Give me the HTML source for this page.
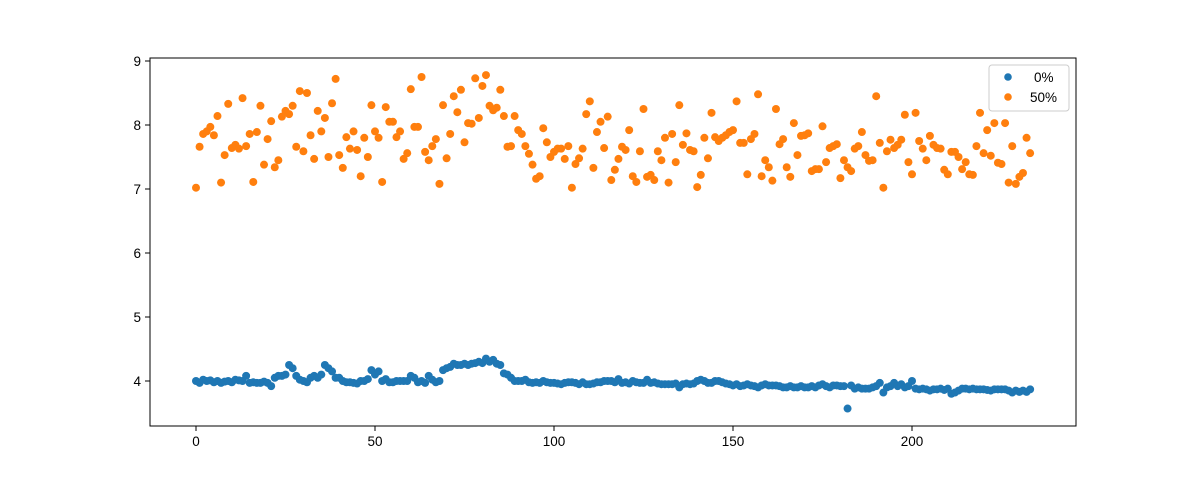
<!DOCTYPE html>
<html><head><meta charset="utf-8"><style>
body{margin:0;background:#fff;}
svg text{font-family:"Liberation Sans","DejaVu Sans",sans-serif;font-size:13.5px;fill:#000;}
</style></head><body>
<svg id="chart" width="1196" height="480" xmlns="http://www.w3.org/2000/svg">
<rect width="1196" height="480" fill="#fff"/>
<g id="marks"></g>
<rect x="150" y="58" width="926" height="368" fill="none" stroke="#000" stroke-width="1"/>
<g id="axes"></g>
<g>
<rect x="989" y="65" width="80" height="46" rx="3" fill="#fff" fill-opacity="0.8" stroke="#ccc"/>
<circle cx="1008" cy="77" r="3.8" fill="#1f77b4"/>
<text x="1034" y="82">0%</text>
<circle cx="1008" cy="97" r="3.8" fill="#ff7f0e"/>
<text x="1030" y="102">50%</text>
</g>
</svg>
<script>
const series0 = [4.0,3.97,4.02,4.0,4.01,3.98,4.0,3.97,3.99,4.0,
3.98,4.02,4.01,4.0,4.08,3.97,3.98,3.97,3.97,3.99,
3.97,3.92,4.05,4.08,4.08,4.1,4.25,4.2,4.08,4.02,
4.0,3.98,4.05,4.08,4.05,4.1,4.25,4.2,4.15,4.05,
4.05,4.0,3.98,3.98,3.97,3.96,4.0,4.0,4.03,4.17,
4.1,4.15,4.0,4.03,3.98,3.98,4.0,4.0,4.0,4.0,
4.08,4.05,3.98,4.0,3.97,4.08,4.02,3.98,4.0,4.17,
4.2,4.22,4.27,4.25,4.25,4.27,4.25,4.27,4.28,4.3,
4.28,4.35,4.3,4.33,4.27,4.25,4.12,4.1,4.05,4.0,
4.0,4.0,4.02,3.98,3.97,3.98,3.97,4.0,3.98,3.97,
3.97,3.96,3.95,3.97,3.98,3.98,3.97,3.95,3.98,3.95,
3.95,3.96,3.98,3.98,4.0,4.0,4.0,3.98,4.03,3.97,
3.98,3.96,4.0,3.98,3.97,3.97,4.02,3.97,3.98,3.96,
3.95,3.95,3.95,3.95,3.96,3.9,3.95,3.96,3.95,3.96,
4.0,4.02,4.0,3.97,3.97,4.0,4.0,3.98,3.96,3.95,
3.93,3.95,3.92,3.93,3.95,3.93,3.92,3.9,3.93,3.95,
3.93,3.93,3.93,3.92,3.9,3.9,3.92,3.9,3.9,3.92,
3.9,3.9,3.92,3.9,3.93,3.95,3.92,3.9,3.93,3.93,
3.92,3.92,3.57,3.93,3.88,3.9,3.88,3.88,3.88,3.9,
3.92,3.97,3.82,3.9,3.92,3.97,3.92,3.95,3.9,3.92,
4.0,3.88,3.87,3.88,3.87,3.85,3.87,3.87,3.88,3.86,
3.88,3.8,3.82,3.85,3.88,3.88,3.87,3.88,3.87,3.87,
3.87,3.86,3.85,3.87,3.87,3.87,3.87,3.85,3.82,3.85,
3.83,3.85,3.83,3.87];
const series50 = [7.02,7.66,7.86,7.9,7.97,7.84,8.14,7.1,7.53,8.33,
7.64,7.69,7.63,8.42,7.67,7.86,7.11,7.89,8.3,7.38,
7.78,8.06,7.34,7.45,8.13,8.22,8.17,8.3,7.66,8.53,
7.59,8.5,7.84,7.47,8.22,7.9,8.11,7.5,8.34,8.72,
7.53,7.33,7.81,7.63,7.9,7.61,7.2,7.8,7.5,8.31,
7.9,7.8,7.11,8.28,8.05,8.05,7.81,7.9,7.47,7.56,
8.56,7.97,7.97,8.75,7.58,7.45,7.67,7.78,7.08,8.31,
7.48,7.86,8.45,8.2,8.55,7.73,8.03,8.02,8.73,8.11,
8.61,8.78,8.3,8.23,8.27,8.55,8.14,7.66,7.67,8.14,
7.92,7.86,7.67,7.55,7.38,7.16,7.2,7.95,7.73,7.5,
7.58,7.63,7.63,7.47,7.67,7.02,7.39,7.48,7.63,8.17,
8.37,7.33,7.89,8.05,7.64,8.13,7.14,7.3,7.47,7.66,
7.61,7.92,7.2,7.11,7.59,8.25,7.19,7.22,7.14,7.59,
7.45,7.8,7.1,7.86,7.42,8.31,7.69,7.87,7.61,7.59,
7.03,7.22,7.8,7.48,8.19,7.81,7.75,7.8,7.84,7.89,
7.92,8.37,7.72,7.72,7.23,7.78,7.86,8.48,7.2,7.45,
7.34,7.13,8.25,7.7,7.78,7.34,7.19,8.03,7.53,7.83,
7.84,7.87,7.28,7.31,7.31,7.98,7.42,7.64,7.67,7.7,
7.17,7.45,7.34,7.28,7.63,7.67,7.89,7.53,7.44,7.45,
8.45,7.72,7.02,7.59,7.77,7.64,7.69,7.77,8.16,7.42,
7.23,8.19,7.75,7.63,7.45,7.83,7.69,7.64,7.63,7.3,
7.23,7.58,7.58,7.5,7.31,7.42,7.23,7.22,7.67,8.19,
7.56,7.92,7.52,8.03,7.41,7.39,8.03,7.1,7.67,7.08,
7.19,7.25,7.8,7.56];
const xTicks = [0,50,100,150,200];
const yTicks = [4,5,6,7,8,9];

const NS='http://www.w3.org/2000/svg';
function xs(v){return 196 + v*3.58;}
function ys(v){return 381 - (v-4)*64;}
const marks=document.getElementById('marks');
function drawSeries(arr,color,name){
  arr.forEach((v,i)=>{
    const c=document.createElementNS(NS,'circle');
    c.setAttribute('cx',xs(i));c.setAttribute('cy',ys(v));c.setAttribute('r',4);
    c.setAttribute('fill',color);
    
    
    marks.appendChild(c);
  });
}
drawSeries(series0,'#1f77b4','point-0pct');
drawSeries(series50,'#ff7f0e','point-50pct');
const axes=document.getElementById('axes');
xTicks.forEach(t=>{
  const l=document.createElementNS(NS,'line');
  l.setAttribute('x1',xs(t));l.setAttribute('x2',xs(t));l.setAttribute('y1',426);l.setAttribute('y2',431);l.setAttribute('stroke','#000');
  
  
  axes.appendChild(l);
  const tx=document.createElementNS(NS,'text');
  tx.setAttribute('x',xs(t));tx.setAttribute('y',446);tx.setAttribute('text-anchor','middle');tx.textContent=t;
  
  
  axes.appendChild(tx);
});
yTicks.forEach(t=>{
  const l=document.createElementNS(NS,'line');
  l.setAttribute('x1',145);l.setAttribute('x2',150);l.setAttribute('y1',ys(t));l.setAttribute('y2',ys(t));l.setAttribute('stroke','#000');
  
  
  axes.appendChild(l);
  const tx=document.createElementNS(NS,'text');
  tx.setAttribute('x',141);tx.setAttribute('y',ys(t)+5);tx.setAttribute('text-anchor','end');tx.textContent=t;
  
  
  axes.appendChild(tx);
});
</script>
</body></html>
